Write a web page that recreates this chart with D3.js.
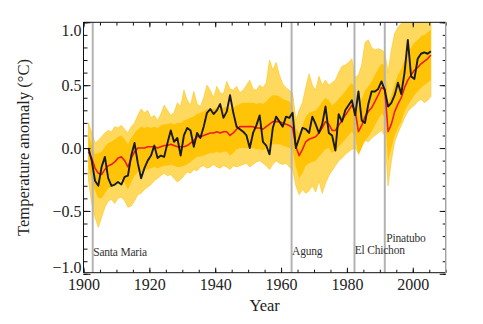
<html>
<head>
<meta charset="utf-8">
<title>Temperature anomaly 1900-2005</title>
<script src="https://d3js.org/d3.v7.min.js"></script>
<style>
  body { margin: 0; background: #fff; }
  svg text { font-family: "Liberation Serif", "Times New Roman", serif; fill: #222; }
</style>
</head>
<body>
<script>
// annual values, 1901 .. 2005
const years = d3.range(1901, 2006);

// observations
const observed = [
   0.00, -0.10, -0.26, -0.30, -0.15, -0.07, -0.24, -0.30, -0.29, -0.27,
  -0.29, -0.23, -0.22, -0.06,  0.04, -0.12, -0.24, -0.16, -0.10, -0.06,
   0.02, -0.08, -0.06, -0.07,  0.04,  0.14,  0.05,  0.08, -0.06,  0.10,
   0.16,  0.14,  0.01,  0.12,  0.08,  0.17,  0.28,  0.31,  0.27,  0.30,
   0.35,  0.24,  0.29,  0.42,  0.28,  0.17,  0.15,  0.13,  0.10,  0.00,
   0.12,  0.18,  0.26,  0.05,  0.02, -0.05,  0.16,  0.25,  0.21,  0.17,
   0.25,  0.24,  0.28,  0.00,  0.08,  0.16,  0.15,  0.12,  0.25,  0.19,
   0.12,  0.19,  0.33,  0.12,  0.10, -0.02,  0.27,  0.21,  0.30,  0.34,
   0.38,  0.26,  0.45,  0.22,  0.20,  0.35,  0.45,  0.45,  0.47,  0.53,
   0.46,  0.33,  0.36,  0.42,  0.52,  0.43,  0.60,  0.86,  0.57,  0.55,
   0.71,  0.75,  0.76,  0.75,  0.77
];

// multi-model ensemble mean
const modelMean = [
  -0.03, -0.08, -0.16, -0.20, -0.21, -0.17, -0.14, -0.13, -0.11, -0.08,
  -0.07, -0.10, -0.15, -0.08, -0.03,  0.00,  0.00,  0.00,  0.01,  0.01,
   0.01,  0.00,  0.01,  0.02,  0.02,  0.03,  0.02,  0.01,  0.01,  0.01,
   0.02,  0.04,  0.06,  0.09,  0.09,  0.10,  0.11,  0.12,  0.12,  0.13,
   0.12,  0.13,  0.13,  0.10,  0.12,  0.15,  0.17,  0.17,  0.17,  0.17,
   0.17,  0.16,  0.16,  0.15,  0.17,  0.19,  0.21,  0.21,  0.21,  0.20,
   0.19,  0.18,  0.16,  0.01, -0.06, -0.01,  0.05,  0.07,  0.08,  0.09,
   0.12,  0.16,  0.21,  0.19,  0.14,  0.14,  0.18,  0.22,  0.26,  0.30,
   0.34,  0.30,  0.13,  0.18,  0.25,  0.29,  0.32,  0.37,  0.42,  0.48,
   0.47,  0.13,  0.19,  0.29,  0.35,  0.40,  0.48,  0.54,  0.58,  0.62,
   0.64,  0.67,  0.69,  0.71,  0.74
];

// spread of the individual simulations: extremes
const runsMax = [
   0.20,  0.12,  0.04,  0.06,  0.09,  0.12,  0.14,  0.13,  0.17,  0.16,
   0.18,  0.15,  0.12,  0.17,  0.20,  0.26,  0.31,  0.28,  0.30,  0.24,
   0.26,  0.22,  0.27,  0.34,  0.30,  0.26,  0.28,  0.36,  0.33,  0.46,
   0.38,  0.34,  0.45,  0.35,  0.33,  0.40,  0.50,  0.46,  0.40,  0.49,
   0.44,  0.43,  0.53,  0.47,  0.46,  0.49,  0.44,  0.46,  0.50,  0.54,
   0.47,  0.46,  0.50,  0.48,  0.52,  0.70,  0.62,  0.68,  0.58,  0.51,
   0.48,  0.46,  0.44,  0.22,  0.30,  0.36,  0.48,  0.59,  0.50,  0.46,
   0.57,  0.50,  0.54,  0.50,  0.52,  0.54,  0.60,  0.65,  0.66,  0.68,
   0.71,  0.56,  0.58,  0.66,  0.84,  0.86,  0.80,  0.78,  0.79,  0.78,
   0.76,  0.60,  0.78,  0.91,  0.96,  0.99,  1.02,  1.05,  1.03,  1.04,
   1.05,  1.03,  1.05,  1.04,  1.03
];
const runsMin = [
  -0.25, -0.44, -0.55, -0.63, -0.55, -0.47, -0.42, -0.41, -0.44, -0.40,
  -0.39, -0.42, -0.47, -0.46, -0.42, -0.37, -0.36, -0.33, -0.31, -0.29,
  -0.26, -0.24, -0.22, -0.20, -0.22, -0.21, -0.24, -0.27, -0.25, -0.22,
  -0.19, -0.20, -0.17, -0.18, -0.15, -0.14, -0.16, -0.15, -0.13, -0.15,
  -0.16, -0.14, -0.15, -0.17, -0.14, -0.15, -0.14, -0.13, -0.12, -0.15,
  -0.13, -0.11, -0.10, -0.12, -0.14, -0.17, -0.13, -0.10, -0.12, -0.13,
  -0.12, -0.15, -0.17, -0.30, -0.37, -0.33, -0.36, -0.34, -0.30, -0.35,
  -0.26, -0.36, -0.28, -0.22, -0.18, -0.14, -0.10, -0.08, -0.05, -0.03,
  -0.01,  0.00, -0.04,  0.03,  0.06,  0.05,  0.08,  0.10,  0.12,  0.14,
   0.10, -0.30, -0.10,  0.05,  0.12,  0.18,  0.24,  0.29,  0.32,  0.34,
   0.37,  0.39,  0.36,  0.38,  0.41
];

// spread of the individual simulations: dense core
const coreTop = [
   0.10,  0.03, -0.05, -0.04, -0.03,  0.01,  0.04,  0.05,  0.07,  0.09,
   0.10,  0.07,  0.03,  0.08,  0.12,  0.15,  0.17,  0.16,  0.17,  0.16,
   0.17,  0.16,  0.18,  0.19,  0.19,  0.20,  0.19,  0.20,  0.20,  0.22,
   0.23,  0.24,  0.25,  0.27,  0.28,  0.29,  0.31,  0.31,  0.31,  0.32,
   0.31,  0.32,  0.33,  0.31,  0.32,  0.34,  0.35,  0.36,  0.36,  0.36,
   0.36,  0.35,  0.36,  0.35,  0.37,  0.40,  0.42,  0.42,  0.41,  0.39,
   0.38,  0.37,  0.34,  0.16,  0.12,  0.18,  0.25,  0.28,  0.29,  0.30,
   0.33,  0.37,  0.40,  0.38,  0.34,  0.36,  0.39,  0.42,  0.45,  0.49,
   0.52,  0.47,  0.33,  0.39,  0.46,  0.49,  0.53,  0.58,  0.63,  0.67,
   0.66,  0.36,  0.42,  0.51,  0.58,  0.63,  0.70,  0.76,  0.80,  0.84,
   0.86,  0.89,  0.90,  0.92,  0.94
];
const coreBottom = [
  -0.15, -0.25, -0.34, -0.40, -0.40, -0.36, -0.32, -0.31, -0.29, -0.26,
  -0.25, -0.28, -0.33, -0.27, -0.22, -0.19, -0.19, -0.18, -0.17, -0.16,
  -0.15, -0.16, -0.15, -0.14, -0.14, -0.13, -0.14, -0.15, -0.15, -0.14,
  -0.13, -0.11, -0.09, -0.07, -0.07, -0.06, -0.05, -0.04, -0.04, -0.03,
  -0.04, -0.03, -0.03, -0.06, -0.04, -0.01,  0.00,  0.00,  0.00,  0.00,
   0.00, -0.01, -0.01, -0.02,  0.00,  0.01,  0.03,  0.03,  0.03,  0.02,
   0.01,  0.00, -0.02, -0.15, -0.24, -0.20, -0.14, -0.12, -0.11, -0.10,
  -0.07, -0.04, -0.01,  0.00, -0.04, -0.02,  0.01,  0.04,  0.07,  0.10,
   0.13,  0.09, -0.06,  0.00,  0.06,  0.09,  0.13,  0.18,  0.23,  0.27,
   0.25, -0.10,  0.00,  0.10,  0.16,  0.21,  0.29,  0.34,  0.38,  0.42,
   0.45,  0.48,  0.50,  0.52,  0.54
];

// major volcanic eruptions
const volcanoes = ["Santa Maria", "Agung", "El Chichon", "Pinatubo"];
const eruptionDates = [1902.8, 1963.2, 1982.3, 1991.5];

const yearTicks = [1900, 1920, 1940, 1960, 1980, 2000];
const anomalyTicks = [-1.0, -0.5, 0.0, 0.5, 1.0];

//  Layout  //
const width = 483, height = 324;
const plot = { left: 83.5, right: 445.7, top: 22.3, bottom: 272.7 };
const serif = "'Liberation Serif', 'Times New Roman', serif";

const svg = d3.select("body").append("svg")
  .attr("width", width)
  .attr("height", height);

const x = d3.scaleLinear().domain([1900, 2010]).range([plot.left, plot.right]);
const y = d3.scaleLinear().domain([-1.0, 1.0]).range([273.8, plot.top]);

// values are annual means, drawn at mid-year
const xYear = i => x(years[i] + 0.5);

svg.append("clipPath").attr("id", "plotArea")
  .append("rect")
  .attr("x", plot.left).attr("y", plot.top)
  .attr("width", plot.right - plot.left)
  .attr("height", plot.bottom - plot.top);

const bands = svg.append("g").attr("clip-path", "url(#plotArea)");

// outer spread of the simulations
bands.append("path")
  .datum(years)
  .attr("fill", "#ffd95e")
  .attr("stroke", "#ffc82a")
  .attr("stroke-width", 0.7)
  .attr("d", d3.area()
    .x((d, i) => xYear(i))
    .y0((d, i) => y(runsMin[i]))
    .y1((d, i) => y(runsMax[i])));

// dense core of the simulations
bands.append("path")
  .datum(years)
  .attr("fill", "#ffc408")
  .attr("d", d3.area()
    .x((d, i) => xYear(i))
    .y0((d, i) => y(coreBottom[i]))
    .y1((d, i) => y(coreTop[i])));

// eruption markers
svg.append("g")
  .selectAll("line")
  .data(eruptionDates)
  .join("line")
    .attr("x1", d => x(d)).attr("x2", d => x(d))
    .attr("y1", plot.top).attr("y2", plot.bottom)
    .attr("stroke", "#b3b3b3")
    .attr("stroke-width", 2);

// label rows: Pinatubo sits one row up to clear El Chichon
const labelY = [255.5, 255, 254, 241.7];
const labelDx = [0.5, 0.5, 0.2, 1.5];
svg.append("g")
  .selectAll("text")
  .data(volcanoes)
  .join("text")
    .attr("x", (d, i) => x(eruptionDates[i]) + labelDx[i])
    .attr("y", (d, i) => labelY[i])
    .style("font-size", "11.5px")
    .style("fill", "#333")
    .attr("letter-spacing", -0.2)
    .text(d => d);

// model mean and observations
const line = series => d3.line()
  .x((d, i) => xYear(i))
  .y((d, i) => y(series[i]));

svg.append("path")
  .datum(years)
  .attr("fill", "none")
  .attr("stroke", "#ec1c24")
  .attr("stroke-width", 1.6)
  .attr("stroke-linejoin", "round")
  .attr("d", line(modelMean));

svg.append("path")
  .datum(years)
  .attr("fill", "none")
  .attr("stroke", "#1a1a1a")
  .attr("stroke-width", 1.9)
  .attr("stroke-linejoin", "round")
  .attr("d", line(observed));

//  Axes  //
const minorYears = d3.range(1900, 2011, 5);
const minorAnoms = d3.range(-10, 11).map(d => d / 10);

function drawAxis(axis, transform) {
  const g = svg.append("g").attr("transform", transform).call(axis);
  g.select(".domain").remove();
  g.attr("font-family", null).attr("font-size", null);
  g.selectAll(".tick line").attr("stroke", "#111").attr("stroke-width", 1);
  g.selectAll(".tick text")
    .style("font-family", serif)
    .style("font-size", "16px")
    .style("fill", "#222");
  return g;
}

// bottom
drawAxis(d3.axisBottom(x).tickValues(minorYears).tickSize(-3).tickFormat(""),
  "translate(0," + plot.bottom + ")");
drawAxis(d3.axisBottom(x).tickValues(yearTicks).tickSize(-5).tickPadding(6).tickFormat(d3.format("d")),
  "translate(0," + plot.bottom + ")");

// top
drawAxis(d3.axisTop(x).tickValues(minorYears).tickSize(-3.3).tickFormat(""),
  "translate(0," + plot.top + ")");
drawAxis(d3.axisTop(x).tickValues(yearTicks).tickSize(-5).tickFormat(""),
  "translate(0," + plot.top + ")");

// left
drawAxis(d3.axisLeft(y).tickValues(minorAnoms).tickSize(-4).tickFormat(""),
  "translate(" + plot.left + ",0)");
const leftLabels = drawAxis(d3.axisLeft(y).tickValues(anomalyTicks).tickSize(-7).tickPadding(2)
    .tickFormat(d => d3.format(".1f")(d).replace("-", "\u2212")),
  "translate(" + plot.left + ",0)");
// end labels kept inside the frame
leftLabels.selectAll(".tick text")
  .attr("dy", d => d === 1.0 ? "0.82em" : (d === -1.0 ? "-0.08em" : "0.32em"));

// right
drawAxis(d3.axisRight(y).tickValues(minorAnoms).tickSize(-3).tickFormat(""),
  "translate(" + plot.right + ",0)");
drawAxis(d3.axisRight(y).tickValues(anomalyTicks).tickSize(-6).tickFormat(""),
  "translate(" + plot.right + ",0)");

// frame
svg.append("path")
  .attr("fill", "none")
  .attr("stroke", "#111")
  .attr("stroke-width", 1)
  .attr("d", "M" + plot.right + "," + plot.top + "H" + plot.left + "V" + plot.bottom + "H" + plot.right);
svg.append("line")
  .attr("x1", plot.right).attr("x2", plot.right)
  .attr("y1", plot.top).attr("y2", plot.bottom)
  .attr("stroke", "#a0a0a0")
  .attr("stroke-width", 1.4);

// axis titles
svg.append("text")
  .attr("x", (plot.left + plot.right) / 2)
  .attr("y", 311)
  .attr("text-anchor", "middle")
  .style("font-size", "16.5px")
  .text("Year");

svg.append("text")
  .attr("transform", "translate(29," + ((plot.top + plot.bottom) / 2) + ") rotate(-90)")
  .attr("text-anchor", "middle")
  .style("font-size", "16.5px")
  .text("Temperature anomaly (\u00B0C)");
</script>
</body>
</html>
